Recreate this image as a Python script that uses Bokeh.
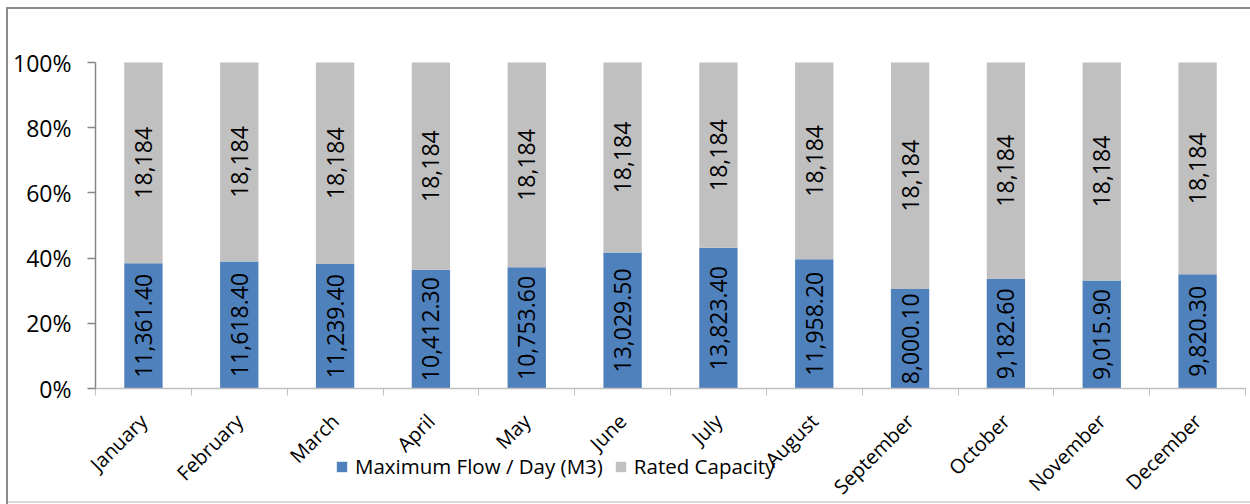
import math
import numpy as np
from bokeh.plotting import figure
from bokeh.models import ColumnDataSource, FixedTicker, Range1d, Legend, LegendItem, NumeralTickFormatter
from bokeh.core.properties import value
from bokeh.embed import file_html
from bokeh.resources import INLINE

months = ["January", "February", "March", "April", "May", "June", "July",
          "August", "September", "October", "November", "December"]
max_flow = [11361.4, 11618.4, 11239.4, 10412.3, 10753.6, 13029.5, 13823.4,
            11958.2, 8000.1, 9182.6, 9015.9, 9820.3]
rated_capacity = [18184] * 12
y_ticks = [0, 0.2, 0.4, 0.6, 0.8, 1.0]
series_names = ["Maximum Flow / Day (M3)", "Rated Capacity"]
colors = ["#4F81BD", "#C0C0C0"]

flow = np.array(max_flow, dtype=float)
rated = np.array(rated_capacity, dtype=float)
total = flow + rated
flow_share = flow / total
rated_share = rated / total
xs = np.arange(len(months)) + 0.5

src = ColumnDataSource(dict(
    x=xs, flow=flow_share, rated=rated_share,
    flow_mid=flow_share / 2, rated_mid=flow_share + rated_share / 2,
    flow_lbl=[f"{v:,.2f}" for v in max_flow],
    rated_lbl=[f"{v:,.0f}" for v in rated_capacity],
))

FONT = "Open Sans"
W, H = 1250, 504
# layout in pixels: plot area of the 100% bars
LEFT_PX, RIGHT_PX, TOP_PX, ZERO_PX = 95, 1245, 62, 388
n = len(months)
ppx = (RIGHT_PX - LEFT_PX) / n
ppy = ZERO_PX - TOP_PX
x_range = Range1d(-LEFT_PX / ppx, (W - LEFT_PX) / ppx)
y_range = Range1d(-(H - ZERO_PX) / ppy, 1 + TOP_PX / ppy)

p = figure(width=W, height=H, x_range=x_range, y_range=y_range,
           output_backend="svg", toolbar_location=None,
           min_border_left=0, min_border_right=0, min_border_top=0, min_border_bottom=0)
# outer chart frame (top, left, bottom edges) painted behind a transparent canvas
p.border_fill_color = None
p.background_fill_color = None
p.styles = {
    "background": ("linear-gradient(#8C8C8C,#8C8C8C) 6px 7px / 2px 100% no-repeat, "
                   "linear-gradient(#8C8C8C,#8C8C8C) 6px 7px / 100% 2px no-repeat, "
                   "linear-gradient(#D9D9D9,#D9D9D9) 6px 501px / 100% 2px no-repeat, #FFFFFF"),
}

rs = p.vbar_stack(["flow", "rated"], x="x", width=0.4, source=src, color=colors, line_color=None)

for ycol, tcol in (("flow_mid", "flow_lbl"), ("rated_mid", "rated_lbl")):
    p.text(x="x", y=ycol, text=tcol, source=src, angle=math.pi / 2,
           text_align="center", text_baseline="middle",
           text_font=value(FONT), text_font_size="23px", text_color="black")

# y axis line only from 0% to 100%
p.segment(x0=[0], y0=[0], x1=[0], y1=[1], line_color="#868686", line_width=1.5)

p.xgrid.visible = False
p.ygrid.visible = False
p.outline_line_color = None

xa = p.xaxis[0]
xa.fixed_location = 0
xa.bounds = (0, n)
xa.ticker = FixedTicker(ticks=list(xs), minor_ticks=list(range(n + 1)))
xa.major_label_overrides = {float(x): m for x, m in zip(xs, months)}
xa.major_label_orientation = math.pi / 4
xa.major_tick_out = 0
xa.major_tick_in = 0
xa.minor_tick_out = 7
xa.minor_tick_in = 0
xa.minor_tick_line_color = "#BFBFBF"
xa.axis_line_color = "#BFBFBF"
xa.axis_line_width = 1.5
xa.major_label_text_font = FONT
xa.major_label_text_font_size = "20px"
xa.major_label_text_color = "black"
xa.major_label_standoff = 22

ya = p.yaxis[0]
ya.fixed_location = 0
ya.bounds = (0, 1)
ya.ticker = FixedTicker(ticks=y_ticks, minor_ticks=[])
ya.formatter = NumeralTickFormatter(format="0%")
ya.major_tick_out = 8
ya.major_tick_in = 0
ya.major_tick_line_color = "#868686"
ya.major_tick_line_width = 1.5
ya.axis_line_color = None
ya.major_label_text_font = FONT
ya.major_label_text_font_size = "23px"
ya.major_label_text_color = "black"
ya.major_label_standoff = 16

legend = Legend(items=[LegendItem(label=nm, renderers=[r]) for nm, r in zip(series_names, rs)],
                orientation="horizontal", location=(335, 24),
                label_text_font=FONT, label_text_font_size="20.5px", label_text_color="black",
                glyph_width=13, glyph_height=13, label_standoff=7, spacing=11,
                padding=0, margin=0, border_line_color=None, background_fill_alpha=0)
p.add_layout(legend, "center")

open("out.html", "w").write(file_html(p, INLINE))
